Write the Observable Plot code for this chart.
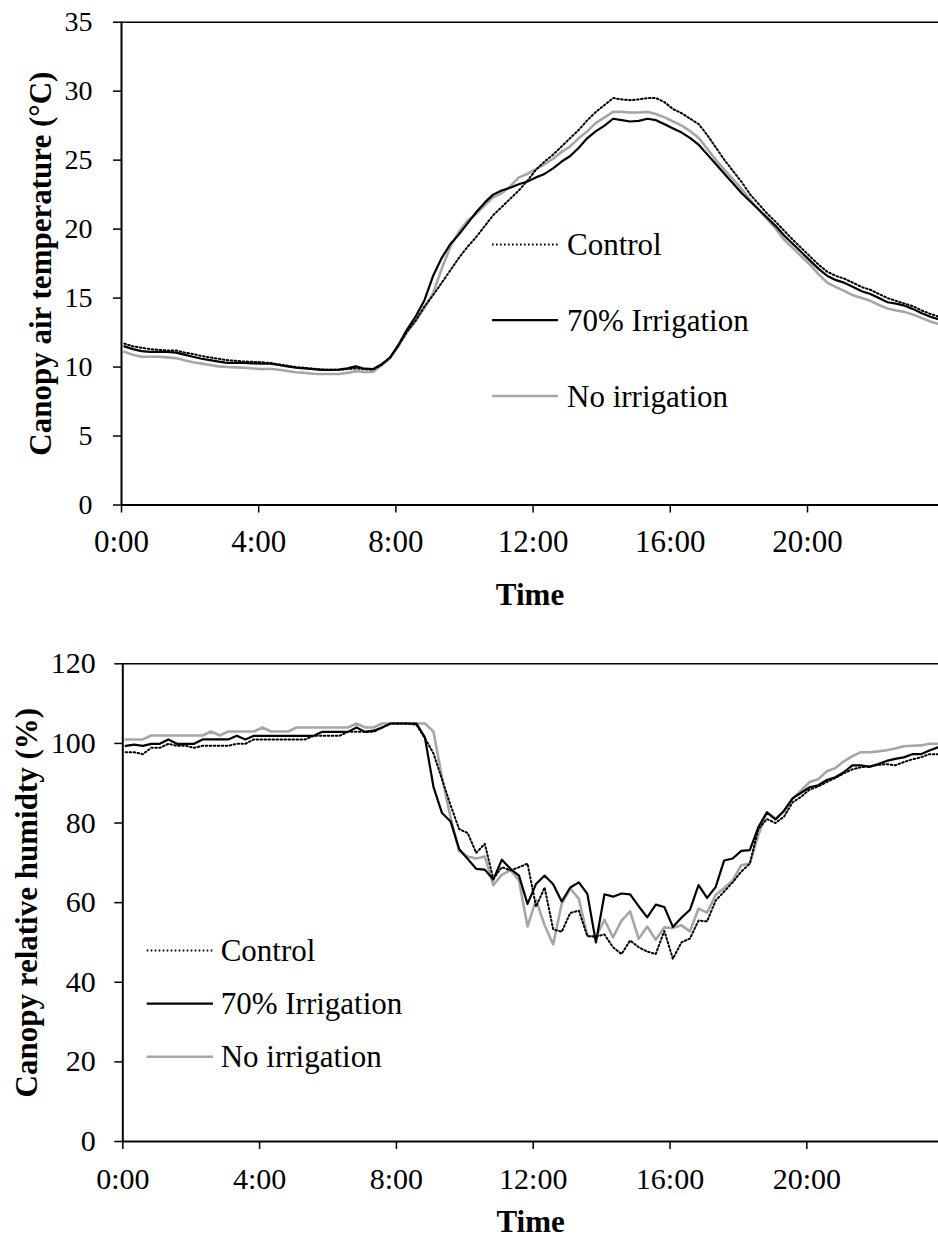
<!DOCTYPE html>
<html><head><meta charset="utf-8">
<script src="https://cdn.jsdelivr.net/npm/d3@7"></script>
<script src="https://cdn.jsdelivr.net/npm/@observablehq/plot@0.6"></script>
<style>
body{margin:0;background:#fff;}
#wrap{position:relative;width:938px;height:1237px;font-family:"Liberation Serif","Times New Roman",serif;color:#000;}
#top{position:absolute;left:0;top:0;}
#bot{position:absolute;left:0;top:620px;}
</style></head><body><div id="wrap"><div id="top"></div><div id="bot"></div></div>
<script>
const seriesNames = ["Control", "70% Irrigation", "No irrigation"];
// logger readings every 15 min starting 0:05 (minutes after midnight)
const sampleMinutes = d3.range(5, 24 * 60, 15);
const xTickHours = [0, 4, 8, 12, 16, 20];
const xTickLabels = ["0:00", "4:00", "8:00", "12:00", "16:00", "20:00"];
const tempTicks = [0, 5, 10, 15, 20, 25, 30, 35];
const rhTicks = [0, 20, 40, 60, 80, 100, 120];

const tempControl = [11.7,11.5,11.4,11.3,11.25,11.2,11.2,11.05,10.95,10.8,
 10.7,10.6,10.5,10.45,10.4,10.38,10.35,10.3,10.2,10.1,
 10.0,9.95,9.88,9.82,9.8,9.8,9.85,9.9,9.85,9.82,
 10.15,10.7,11.6,12.6,13.4,14.4,15.2,16.1,17.0,17.9,
 18.7,19.4,20.2,21.0,21.6,22.2,22.8,23.5,24.3,24.9,
 25.4,26.0,26.6,27.2,27.9,28.5,29.0,29.5,29.4,29.35,
 29.4,29.5,29.5,29.2,28.7,28.4,28.0,27.6,26.8,25.9,
 25.0,24.2,23.4,22.5,21.8,21.1,20.5,19.85,19.2,18.6,
 18.0,17.4,16.9,16.6,16.4,16.1,15.8,15.6,15.3,15.0,
 14.8,14.6,14.4,14.1,13.85,13.65];
const tempIrr70 = [11.5,11.3,11.15,11.1,11.1,11.1,11.05,10.9,10.75,10.6,
 10.5,10.4,10.3,10.3,10.3,10.27,10.25,10.25,10.15,10.05,
 9.95,9.9,9.85,9.8,9.8,9.82,9.9,10.05,9.88,9.85,
 10.2,10.7,11.65,12.75,13.7,14.85,16.6,17.9,18.9,19.6,
 20.4,21.2,21.9,22.5,22.8,23.0,23.25,23.45,23.75,24.0,
 24.4,24.9,25.3,25.9,26.6,27.1,27.5,28.0,27.9,27.8,
 27.85,28.0,27.9,27.6,27.3,27.0,26.6,26.1,25.4,24.7,
 24.0,23.3,22.6,22.0,21.4,20.8,20.2,19.5,18.9,18.3,
 17.7,17.1,16.6,16.3,16.1,15.8,15.5,15.3,15.0,14.7,
 14.6,14.45,14.2,13.9,13.65,13.45];
const tempNoIrr = [11.1,10.9,10.75,10.75,10.75,10.7,10.65,10.5,10.35,10.25,
 10.15,10.05,10.0,9.98,9.95,9.9,9.85,9.88,9.8,9.72,
 9.62,9.58,9.52,9.5,9.5,9.5,9.58,9.7,9.65,9.65,
 10.15,10.65,11.55,12.55,13.35,14.3,15.35,17.1,18.7,19.8,
 20.6,21.1,21.7,22.3,22.6,23.1,23.75,24.0,24.35,24.7,
 25.1,25.6,26.0,26.6,27.1,27.7,28.1,28.5,28.5,28.45,
 28.45,28.5,28.35,28.1,27.8,27.5,27.1,26.6,25.8,25.0,
 24.3,23.6,22.9,22.1,21.4,20.7,20.0,19.2,18.6,18.0,
 17.4,16.7,16.1,15.8,15.5,15.2,15.0,14.8,14.5,14.25,
 14.1,14.0,13.8,13.55,13.3,13.1];

const rhControl = [97.8,97.8,97.3,98.9,98.9,99.9,99.4,99.4,98.9,99.4,
 99.4,99.4,99.4,99.9,99.9,101.0,101.0,101.0,101.0,101.0,
 101.0,101.0,101.9,101.9,101.9,101.9,102.9,102.9,102.9,102.9,
 104.0,105.0,105.0,105.0,104.7,101.3,97.5,91.0,84.5,78.5,
 77.5,72.5,74.8,66.0,68.9,68.1,68.9,69.8,59.0,63.8,
 53.3,52.7,57.4,58.0,51.6,51.5,52.0,48.8,47.1,50.5,
 48.8,47.7,47.1,52.9,45.9,50.0,51.0,55.5,55.3,60.5,
 62.8,65.1,67.8,69.8,78.5,81.0,80.0,81.6,85.2,86.6,
 88.4,89.2,90.3,91.3,92.5,93.5,94.0,94.3,94.6,94.8,
 94.5,95.3,96.0,96.5,97.3,97.3];
const rhIrr70 = [99.4,99.7,99.4,99.9,99.9,101.0,99.9,99.9,99.9,101.0,
 101.0,101.0,101.0,101.9,101.0,101.9,101.9,101.9,101.9,101.9,
 101.9,101.9,101.9,102.9,102.9,102.9,102.9,104.0,102.9,103.2,
 104.0,105.0,105.0,105.0,105.0,101.5,89.1,82.5,80.4,73.5,
 71.0,68.5,68.3,65.8,70.8,68.5,66.8,59.7,64.7,66.8,
 64.6,60.3,63.8,65.1,62.2,50.0,62.1,61.5,62.3,62.1,
 59.1,56.3,59.5,58.9,53.9,56.2,58.2,64.4,61.2,63.9,
 70.6,71.1,73.0,73.2,79.0,82.7,80.9,83.1,86.2,87.6,
 89.0,89.5,90.8,91.5,92.8,94.5,94.5,94.1,94.8,95.6,
 96.1,96.5,97.3,97.3,98.2,99.0];
const rhNoIrr = [101.0,101.0,101.0,102.0,102.0,102.0,102.0,102.0,102.0,102.0,
 103.0,102.0,103.0,103.0,103.0,103.0,104.0,103.0,103.0,103.0,
 104.0,104.0,104.0,104.0,104.0,104.0,104.0,105.0,104.0,104.0,
 105.0,105.0,105.0,105.0,105.0,105.0,103.0,91.5,81.4,73.0,
 71.6,71.1,71.6,64.4,67.0,68.2,65.6,54.0,60.7,54.3,
 49.5,59.7,63.5,61.0,51.7,51.3,55.7,51.3,55.5,57.8,
 50.9,54.0,50.7,53.8,53.6,54.3,52.8,58.5,57.5,61.9,
 63.7,65.6,69.4,69.8,77.0,82.7,81.1,82.9,86.2,88.2,
 90.3,91.0,93.0,93.8,95.5,96.8,97.8,97.8,98.0,98.3,
 98.7,99.3,99.4,99.5,99.9,99.9];

const styles = {
  "Control": {stroke: "#000", strokeWidth: 2, strokeDasharray: "1.6,2.4"},
  "70% Irrigation": {stroke: "#000", strokeWidth: 2.2},
  "No irrigation": {stroke: "#a6a6a6", strokeWidth: 2.6}
};
const drawOrder = ["No irrigation", "70% Irrigation", "Control"];

function rows(arrs) {
  const out = [];
  seriesNames.forEach((s, j) => arrs[j].forEach((v, i) => out.push({series: s, t: sampleMinutes[i] / 60, v})));
  return out;
}

function legendMark(cfg) {
  return () => {
    const g = d3.create("svg:g");
    seriesNames.forEach((s, i) => {
      const y = cfg.y[i];
      const st = styles[s];
      g.append("line").attr("x1", cfg.x1).attr("x2", cfg.x2).attr("y1", y).attr("y2", y)
        .attr("stroke", st.stroke).attr("stroke-width", st.strokeWidth)
        .attr("stroke-dasharray", st.strokeDasharray || null);
      g.append("text").attr("x", cfg.tx).attr("y", y + cfg.fs * 0.34)
        .attr("text-anchor", "start")
        .attr("font-size", cfg.fs).attr("font-family", "Liberation Serif")
        .attr("fill", "#000").text(s);
    });
    return g.node();
  };
}

function panel(o) {
  const data = rows(o.arrs);
  return Plot.plot({
    width: 938, height: o.height,
    marginLeft: o.ml, marginRight: 0, marginTop: o.mt, marginBottom: o.mb,
    style: {fontFamily: "Liberation Serif", color: "#000", background: "#fff", overflow: "visible"},
    x: {domain: [0, o.xmax]},
    y: {domain: [0, o.ytop]},
    marks: [
      Plot.ruleY([o.ytop], {stroke: "#000", strokeWidth: 1.5}),
      ...drawOrder.map(s => Plot.line(data.filter(d => d.series === s), {x: "t", y: "v", ...styles[s]})),
      Plot.axisY(o.yTicks, {tickSize: 8, tickPadding: o.yPad, fontSize: o.yFont, label: null, strokeWidth: 1.5}),
      Plot.axisX(xTickHours, {tickSize: 8, tickPadding: o.xPad, fontSize: o.xFont, label: null, strokeWidth: 1.5,
        tickFormat: (d) => xTickLabels[xTickHours.indexOf(d)]}),
      Plot.ruleY([0], {stroke: "#000", strokeWidth: 2}),
      Plot.ruleX([0], {stroke: "#000", strokeWidth: 2}),
      Plot.text([o.yLabel], {frameAnchor: "left", dx: o.titleDx, rotate: -90, fontSize: 31, fontWeight: "bold", textAnchor: "middle", lineAnchor: "bottom"}),
      Plot.text(["Time"], {frameAnchor: "bottom", dy: o.timeDy, fontSize: 31, fontWeight: "bold", lineAnchor: "bottom"}),
      legendMark(o.legend)
    ]
  });
}

document.getElementById("top").append(panel({
  arrs: [tempControl, tempIrr70, tempNoIrr], height: 620, ml: 121, mt: 21.7, mb: 115.5,
  xmax: 23.82, ytop: 35, yTicks: tempTicks, yLabel: "Canopy air temperature (°C)",
  yFont: 28, xFont: 31, yPad: 21, xPad: 17, titleDx: -71, timeDy: 100,
  legend: {x1: 492, x2: 558, tx: 567, y: [244.5, 320.2, 396], fs: 31}
}));
document.getElementById("bot").append(panel({
  arrs: [rhControl, rhIrr70, rhNoIrr], height: 617, ml: 122.3, mt: 43.3, mb: 96,
  xmax: 23.85, ytop: 120, yTicks: rhTicks, yLabel: "Canopy relative humidty (%)",
  yFont: 30, xFont: 30, yPad: 19, xPad: 18, titleDx: -86, timeDy: 90.7,
  legend: {x1: 146.7, x2: 213, tx: 220.7, y: [330.6, 383.7, 436.8], fs: 31}
}));
</script></body></html>
